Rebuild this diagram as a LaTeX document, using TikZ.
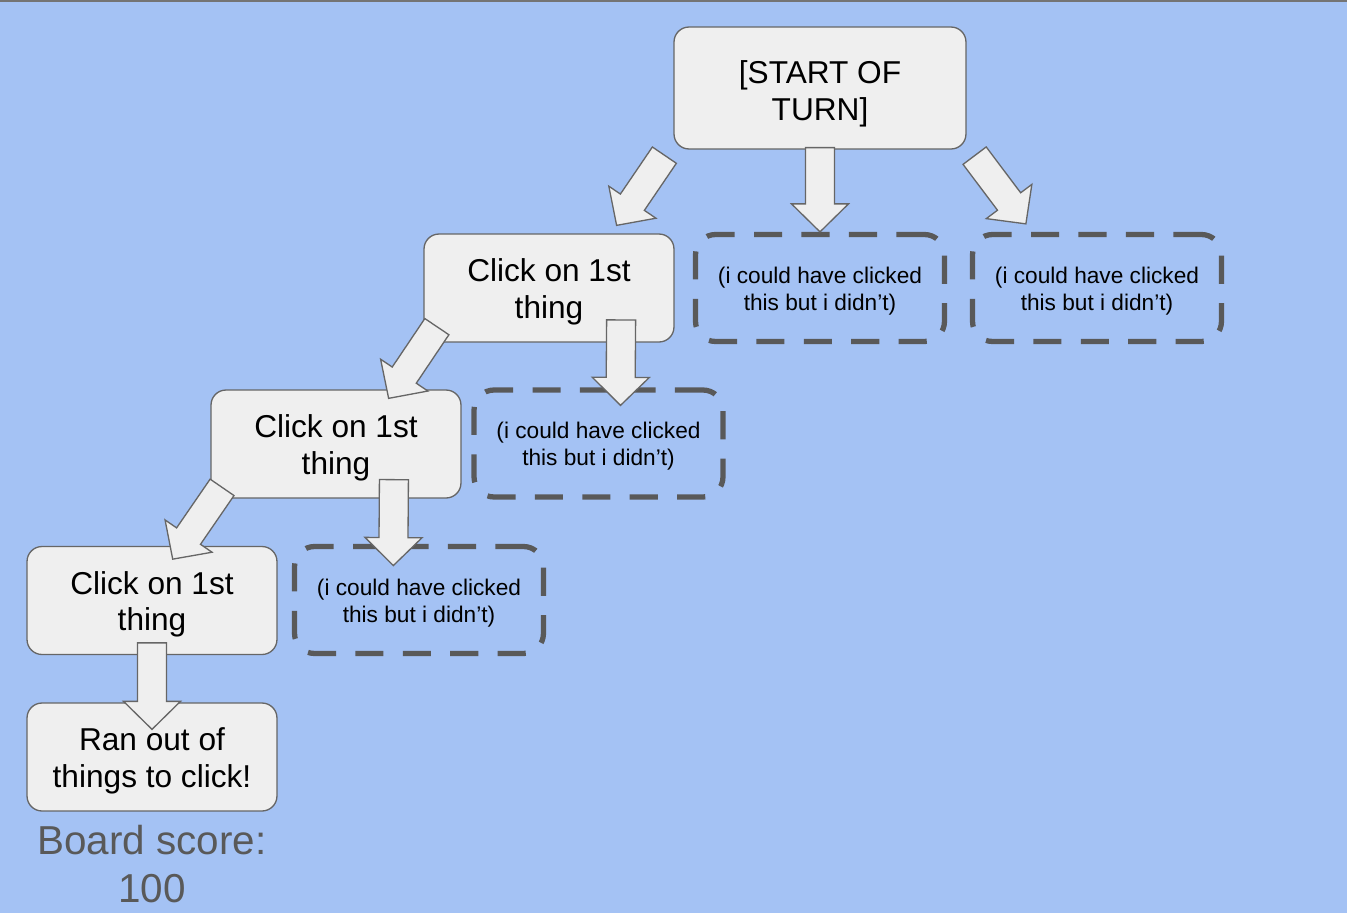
\documentclass[tikz,border=0pt]{standalone}
\usepackage{fontspec}
\setmainfont{Liberation Sans}
\usepackage{tikz}
\usetikzlibrary{calc,positioning}
\definecolor{fondBleu}{HTML}{A4C2F4}
\definecolor{grisClair}{HTML}{EFEFEF}
\definecolor{bordGris}{HTML}{666666}
\definecolor{grisFonce}{HTML}{595959}
\definecolor{traitHaut}{HTML}{747474}

% grosse fleche pleine de #1 (queue) vers #2 (pointe)
\newcommand{\flechepleine}[2]{%
  \coordinate (fh) at ($(#2)!0.56cm!(#1)$);
  \draw[fleche] ($(#1)!0.29cm!90:(#2)$) -- ($(fh)!0.29cm!90:(#2)$)
    -- ($(fh)!0.57cm!90:(#2)$) -- (#2) -- ($(fh)!0.57cm!-90:(#2)$)
    -- ($(fh)!0.29cm!-90:(#2)$) -- ($(#1)!0.29cm!-90:(#2)$) -- cycle;}

\begin{document}
\begin{tikzpicture}[x=0.02cm,y=-0.02cm,
  boite/.style={rectangle,rounded corners=0.3cm,minimum width=5cm,minimum height=2.16cm,
                align=center,fill=grisClair,draw=bordGris,line width=0.75pt,
                font={\fontsize{18}{21}\selectfont},
                execute at begin node={\rule{0pt}{38.4pt}}},
  pointille/.style={rectangle,rounded corners=0.4cm,minimum width=4.98cm,minimum height=2.14cm,
                align=center,draw=grisFonce,line width=3pt,dash pattern=on 16pt off 11pt,
                font={\fontsize{12.9}{15.3}\selectfont},
                execute at begin node={\rule{0pt}{28.1pt}}},
  fleche/.style={fill=grisClair,draw=bordGris,line width=0.75pt}]

  \fill[fondBleu] (0,0) rectangle (1347,913);
  \fill[traitHaut] (0,0) rectangle (1347,2);

  \node[boite,minimum width=5.84cm,minimum height=2.44cm,
        execute at begin node={\rule{0pt}{40.9pt}}] (turn) at (820,88)
    {[START OF\\TURN]};
  \node[boite] (c1) at (549,288) {Click on 1st\\thing};
  \node[pointille] (d1) at (820,288) {(i could have clicked\\this but i didn’t)};
  \node[pointille] (d2) at (1097,288) {(i could have clicked\\this but i didn’t)};
  \node[boite] (c2) at (336,444) {Click on 1st\\thing};
  \node[pointille] (d3) at (598.5,443.5) {(i could have clicked\\this but i didn’t)};
  \node[boite] (c3) at (152,600.5) {Click on 1st\\thing};
  \node[pointille] (d4) at (419,600) {(i could have clicked\\this but i didn’t)};
  \node[boite] (ran) at (152,757) {Ran out of\\things to click!};
  \node[font={\fontsize{23}{27.2}\selectfont},text=grisFonce,align=center] (score)
    at (152,864) {Board score:\\100};

  % grosses fleches
  \flechepleine{$(turn.south west)+(-9,5.5)$}{$(c1.north east)+(-58,-8)$}
  \flechepleine{$(turn.south)+(0,-2)$}{d1.north}
  \flechepleine{$(turn.south east)+(8,6)$}{$(d2.north west)+(56,-8)$}
  \flechepleine{$(c1.south west)+(13.5,-16)$}{$(c2.north east)+(-73,9)$}
  \flechepleine{$(c1.south east)+(-53.5,-22.7)$}{$(d3.north)+(22,18)$}
  \flechepleine{$(c2.south west)+(11.7,-11.3)$}{$(c3.north)+(20.7,13.3)$}
  \flechepleine{$(c2.south east)+(-67.7,-19)$}{$(d4.north)+(-25.7,21.7)$}
  \flechepleine{$(c3.south)+(0,-12.3)$}{$(ran.north)+(0,27)$}
\end{tikzpicture}
\end{document}
